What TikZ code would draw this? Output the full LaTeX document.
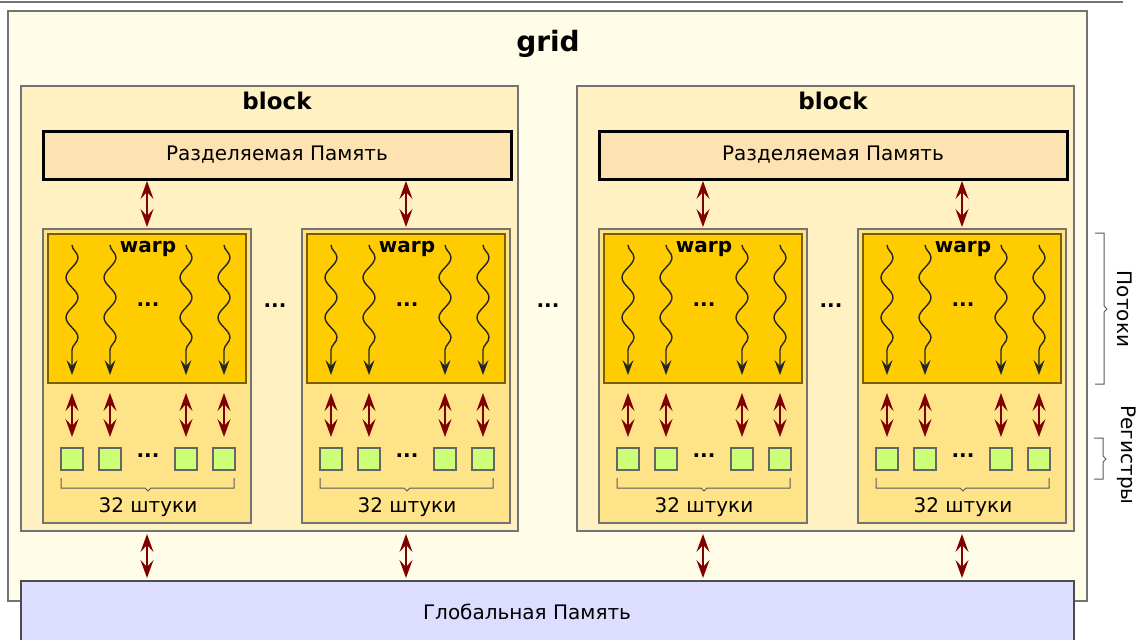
\documentclass[tikz,border=0pt]{standalone}
\usepackage{fontspec}
\setmainfont{DejaVu Sans}
\usepackage{tikz}
\usetikzlibrary{positioning,calc,arrows.meta,decorations.pathmorphing}

\definecolor{gridfill}{HTML}{FFFDE8}
\definecolor{blockfill}{HTML}{FFF1C2}
\definecolor{smfill}{HTML}{FDE3B1}
\definecolor{warpfill}{HTML}{FFE388}
\definecolor{threadfill}{HTML}{FFCC00}
\definecolor{threadedge}{HTML}{7A6000}
\definecolor{regfill}{HTML}{CCFF77}
\definecolor{globfill}{HTML}{DDDDFF}
\definecolor{darkred}{HTML}{800000}

\begin{document}
\begin{tikzpicture}[
        x=0.5pt, y=-0.5pt,
        every node/.style={font=\fontsize{10}{12}\selectfont, inner sep=0pt, outer sep=0pt},
        box/.style={rectangle, draw=black!55, line width=0.6pt},
        title/.style={font=\bfseries\fontsize{11.5}{13}\selectfont},
        memarrow/.style={{Stealth[length=9pt,width=6.5pt,inset=3.5pt]}-{Stealth[length=9pt,width=6.5pt,inset=3.5pt]}, draw=darkred, line width=0.8pt},
        thread/.style={-{Stealth[length=7.5pt,width=5.5pt,inset=3pt]}, draw=black!85, line width=0.7pt, decorate, decoration={snake, amplitude=3pt, segment length=20pt, post length=8pt}},
        reg/.style={rectangle, draw=black!60, fill=regfill, minimum size=11pt, line width=0.7pt},
        bracket/.style={draw=black!65, line width=0.5pt}
        ]

        \clip (0,0) rectangle (1137,639);
        \draw[black!55, line width=1pt] (0,2) -- (1123,2);

        % grid and global memory
        \node[box, fill=gridfill, line width=0.8pt, minimum width=539.5pt, minimum height=295pt] (grid) at (547.5,306) {};
        \node[font=\bfseries\fontsize{14}{16}\selectfont] (gridlabel) at (548,44) {grid};
        \node[box, draw=black!70, fill=globfill, line width=0.8pt, minimum width=526.5pt, minimum height=39.5pt] (glob) at (547.5,620.5) {};
        \node (globlabel) at (527,612) {Глобальная Память};

        % two blocks, two warps each
        \foreach \b/\o in {1/0, 2/556} {
            \node[box, fill=blockfill, minimum width=248.5pt, minimum height=222.5pt] (block\b) at (269.5+\o,308.5) {};
            \node[title] (blocklabel\b) at (277+\o,101) {block};
            \node[rectangle, draw=black, line width=1.5pt, fill=smfill, minimum width=234pt, minimum height=24pt] (sm\b) at (277+\o,155) {Разделяемая Память};
            \node (wdots\b) at (275+\o,306) {\textbf{...}};
            \foreach \w/\wx in {1/43, 2/302} {
                \node[box, fill=warpfill, minimum width=104pt, minimum height=147pt] (warp\b\w) at (\wx+\o+104,376) {};
                \node[rectangle, draw=threadedge, line width=0.8pt, fill=threadfill, minimum width=99pt, minimum height=74.5pt] (threads\b\w) at (\wx+\o+104,308.5) {};
                \node[font=\bfseries\fontsize{10}{12}\selectfont] (warplabel\b\w) at (\wx+\o+105,249) {warp};
                \node (tdots\b\w) at (\wx+\o+105,305) {\textbf{...}};
                \node (rdots\b\w) at (\wx+\o+105,456) {\textbf{...}};
                \node (count\b\w) at (\wx+\o+105,507) {32 штуки};
                \draw[bracket] (\wx+\o+18,478) -- (\wx+\o+18,488) -- (\wx+\o+102,488) -- (\wx+\o+105,491) -- (\wx+\o+108,488) -- (\wx+\o+191,488) -- (\wx+\o+191,478);
                \draw[memarrow, shorten <=1pt, shorten >=1pt] (sm\b.south -| warp\b\w.north) -- (warp\b\w.north);
                \draw[memarrow, shorten <=1.5pt, shorten >=1.5pt] (block\b.south -| warp\b\w.north) -- (glob.north -| warp\b\w.north);
                \foreach \k/\c in {1/29, 2/67, 3/143, 4/181} {
                    \node[reg] (reg\b\w\k) at (\wx+\o+\c,459) {};
                    \coordinate (ts\b\w\k) at (\wx+\o+\c,245);
                    \coordinate (te\b\w\k) at (\wx+\o+\c,375);
                    \draw[thread] (ts\b\w\k) -- (te\b\w\k);
                    \draw[memarrow, shorten <=5pt, shorten >=5.5pt] (threads\b\w.south -| reg\b\w\k.north) -- (reg\b\w\k.north);
                }
            }
        }
        \node (bdots) at (548,306) {\textbf{...}};

        % side brackets
        \draw[bracket] (1095,233) -- (1104,233) -- (1104,306) -- (1107,309) -- (1104,312) -- (1104,384) -- (1095,384);
        \node[rotate=-90] (threadslabel) at (1125,309) {Потоки};
        \draw[bracket] (1094,438) -- (1103,438) -- (1103,456) -- (1106,459) -- (1103,462) -- (1103,479) -- (1094,479);
        \node[rotate=-90] (regslabel) at (1127,455) {Регистры};

    \end{tikzpicture}
\end{document}
